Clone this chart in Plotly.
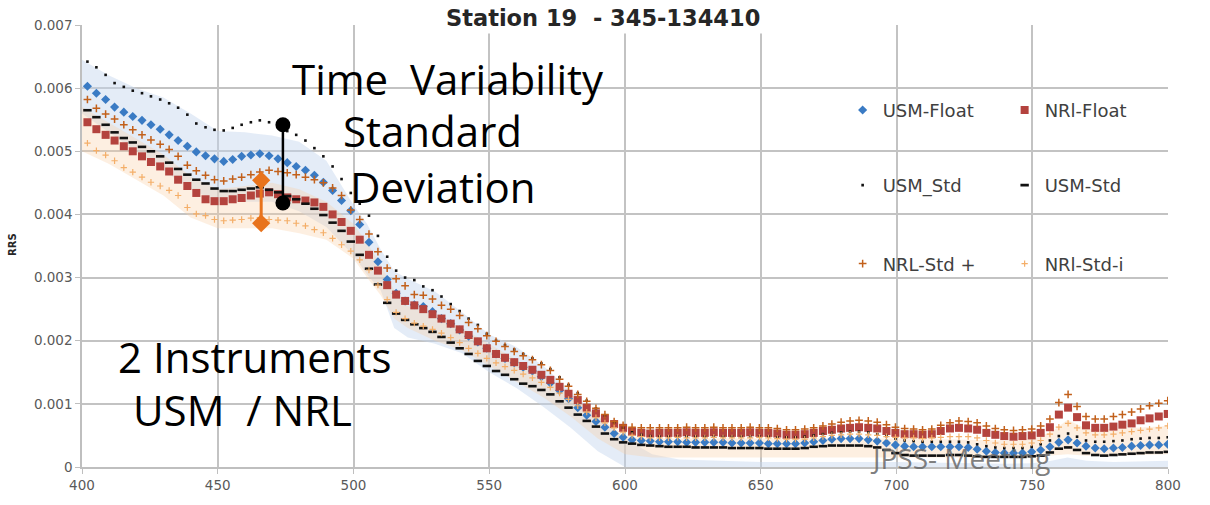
import numpy as np
import plotly.graph_objects as go

# wavelength grid of the spectra (nm)
wavelength = np.round(402 + 3.344 * np.arange(120), 1)

# Remote-sensing reflectance values, read in units of 1e-3 sr^-1
usm_float = [6.03, 5.92, 5.82, 5.70, 5.62, 5.55, 5.49, 5.42, 5.35, 5.26,
             5.17, 5.08, 4.99, 4.93, 4.88, 4.84, 4.87, 4.92, 4.94, 4.96,
             4.93, 4.88, 4.82, 4.76, 4.70, 4.62, 4.51, 4.38, 4.22, 4.06,
             3.84, 3.56, 3.25, 2.97, 2.75, 2.63, 2.57, 2.54, 2.46, 2.35,
             2.27, 2.17, 2.07, 1.98, 1.88, 1.79, 1.72, 1.65, 1.58, 1.52,
             1.43, 1.33, 1.21, 1.08, 0.94, 0.82, 0.72, 0.63, 0.53, 0.47,
             0.43, 0.42, 0.41, 0.40, 0.40, 0.40, 0.39, 0.39, 0.39, 0.39,
             0.39, 0.38, 0.38, 0.38, 0.38, 0.37, 0.37, 0.37, 0.37, 0.38,
             0.40, 0.42, 0.44, 0.45, 0.45, 0.45, 0.43, 0.41, 0.38, 0.35,
             0.33, 0.32, 0.32, 0.32, 0.32, 0.32, 0.32, 0.31, 0.28, 0.25,
             0.23, 0.22, 0.22, 0.22, 0.24, 0.27, 0.32, 0.39, 0.43, 0.38,
             0.33, 0.30, 0.29, 0.30, 0.31, 0.33, 0.34, 0.35, 0.35, 0.36]

nrl_float = [5.46, 5.35, 5.26, 5.17, 5.08, 5.00, 4.92, 4.83, 4.76, 4.68,
             4.55, 4.45, 4.34, 4.24, 4.21, 4.21, 4.24, 4.26, 4.30, 4.33,
             4.35, 4.32, 4.27, 4.24, 4.22, 4.19, 4.12, 4.00, 3.88, 3.74,
             3.60, 3.36, 3.11, 2.88, 2.73, 2.63, 2.56, 2.50, 2.42, 2.35,
             2.27, 2.18, 2.09, 1.99, 1.88, 1.79, 1.73, 1.66, 1.60, 1.54,
             1.46, 1.38, 1.27, 1.16, 1.06, 0.94, 0.85, 0.77, 0.68, 0.62,
             0.56, 0.54, 0.53, 0.54, 0.54, 0.54, 0.55, 0.54, 0.54, 0.55,
             0.54, 0.54, 0.54, 0.55, 0.54, 0.54, 0.53, 0.51, 0.51, 0.52,
             0.54, 0.57, 0.59, 0.61, 0.62, 0.63, 0.62, 0.61, 0.57, 0.54,
             0.52, 0.52, 0.51, 0.52, 0.57, 0.61, 0.62, 0.61, 0.59, 0.54,
             0.51, 0.49, 0.48, 0.49, 0.50, 0.54, 0.63, 0.83, 0.94, 0.79,
             0.66, 0.62, 0.62, 0.64, 0.67, 0.69, 0.74, 0.77, 0.80, 0.84]

usm_std_hi = [6.42, 6.33, 6.21, 6.08, 6.02, 5.96, 5.92, 5.87, 5.82, 5.76,
              5.69, 5.58, 5.44, 5.38, 5.34, 5.33, 5.37, 5.42, 5.46, 5.49,
              5.46, 5.40, 5.32, 5.26, 5.17, 5.05, 4.92, 4.76, 4.56, 4.34,
              4.17, 3.98, 3.66, 3.33, 3.11, 3.00, 2.96, 2.86, 2.80, 2.70,
              2.58, 2.47, 2.35, 2.25, 2.11, 2.00, 1.93, 1.86, 1.79, 1.72,
              1.64, 1.55, 1.42, 1.30, 1.17, 1.05, 0.93, 0.82, 0.71, 0.62,
              0.55, 0.51, 0.49, 0.48, 0.48, 0.48, 0.48, 0.48, 0.48, 0.48,
              0.48, 0.48, 0.48, 0.48, 0.48, 0.48, 0.47, 0.47, 0.47, 0.48,
              0.50, 0.52, 0.54, 0.55, 0.56, 0.56, 0.55, 0.52, 0.49, 0.45,
              0.42, 0.41, 0.40, 0.40, 0.40, 0.40, 0.40, 0.39, 0.36, 0.33,
              0.31, 0.30, 0.30, 0.30, 0.32, 0.36, 0.42, 0.49, 0.53, 0.48,
              0.42, 0.40, 0.40, 0.41, 0.42, 0.44, 0.45, 0.46, 0.46, 0.47]

usm_std_lo = [5.65, 5.54, 5.42, 5.30, 5.21, 5.14, 5.07, 5.00, 4.92, 4.82,
              4.72, 4.63, 4.55, 4.49, 4.41, 4.37, 4.37, 4.39, 4.41, 4.43,
              4.39, 4.35, 4.29, 4.24, 4.17, 4.09, 3.99, 3.87, 3.74, 3.57,
              3.36, 3.14, 2.89, 2.60, 2.43, 2.33, 2.26, 2.20, 2.14, 2.06,
              1.97, 1.88, 1.79, 1.68, 1.60, 1.52, 1.46, 1.39, 1.32, 1.28,
              1.22, 1.15, 1.04, 0.94, 0.83, 0.73, 0.64, 0.53, 0.44, 0.39,
              0.37, 0.35, 0.34, 0.33, 0.32, 0.32, 0.32, 0.31, 0.31, 0.31,
              0.31, 0.30, 0.30, 0.30, 0.30, 0.29, 0.29, 0.29, 0.29, 0.30,
              0.32, 0.33, 0.34, 0.34, 0.34, 0.34, 0.33, 0.31, 0.27, 0.22,
              0.19, 0.18, 0.18, 0.18, 0.18, 0.19, 0.19, 0.18, 0.17, 0.16,
              0.16, 0.16, 0.16, 0.16, 0.17, 0.18, 0.23, 0.29, 0.31, 0.27,
              0.22, 0.19, 0.18, 0.19, 0.20, 0.21, 0.22, 0.23, 0.23, 0.24]

nrl_std_hi = [5.82, 5.68, 5.59, 5.51, 5.42, 5.34, 5.26, 5.18, 5.11, 5.03,
              4.92, 4.78, 4.69, 4.62, 4.55, 4.53, 4.56, 4.59, 4.63, 4.67,
              4.70, 4.68, 4.66, 4.63, 4.59, 4.55, 4.50, 4.42, 4.30, 4.07,
              3.92, 3.69, 3.41, 3.15, 2.98, 2.87, 2.73, 2.72, 2.66, 2.56,
              2.50, 2.40, 2.29, 2.19, 2.08, 1.99, 1.91, 1.83, 1.76, 1.70,
              1.62, 1.53, 1.39, 1.28, 1.15, 1.04, 0.93, 0.83, 0.72, 0.66,
              0.63, 0.62, 0.62, 0.62, 0.62, 0.62, 0.63, 0.62, 0.62, 0.63,
              0.62, 0.62, 0.62, 0.63, 0.62, 0.62, 0.61, 0.59, 0.59, 0.60,
              0.62, 0.65, 0.68, 0.71, 0.73, 0.74, 0.73, 0.71, 0.67, 0.63,
              0.61, 0.60, 0.59, 0.60, 0.66, 0.70, 0.73, 0.72, 0.70, 0.65,
              0.61, 0.59, 0.58, 0.59, 0.60, 0.65, 0.76, 1.02, 1.15, 0.96,
              0.80, 0.76, 0.76, 0.80, 0.83, 0.87, 0.92, 0.97, 1.01, 1.05]

nrl_std_lo = [5.13, 5.01, 4.94, 4.85, 4.74, 4.67, 4.59, 4.51, 4.45, 4.38,
              4.30, 4.11, 4.01, 3.98, 3.92, 3.90, 3.91, 3.92, 3.94, 3.95,
              3.92, 3.91, 3.90, 3.86, 3.82, 3.76, 3.71, 3.62, 3.52, 3.42,
              3.28, 3.12, 2.88, 2.65, 2.45, 2.35, 2.28, 2.23, 2.18, 2.12,
              2.05, 1.97, 1.88, 1.80, 1.72, 1.65, 1.59, 1.53, 1.47, 1.41,
              1.34, 1.26, 1.17, 1.07, 0.97, 0.87, 0.78, 0.70, 0.62, 0.55,
              0.50, 0.48, 0.46, 0.46, 0.46, 0.47, 0.46, 0.46, 0.46, 0.47,
              0.46, 0.46, 0.46, 0.46, 0.47, 0.46, 0.45, 0.44, 0.44, 0.44,
              0.46, 0.48, 0.50, 0.51, 0.52, 0.52, 0.51, 0.50, 0.48, 0.47,
              0.46, 0.46, 0.45, 0.46, 0.47, 0.48, 0.48, 0.48, 0.46, 0.42,
              0.38, 0.36, 0.36, 0.36, 0.38, 0.42, 0.52, 0.63, 0.69, 0.62,
              0.54, 0.51, 0.51, 0.52, 0.54, 0.56, 0.58, 0.60, 0.62, 0.65]

# shaded variability envelopes (1e-3 sr^-1)
band_wl = [400, 410, 420, 430, 440, 450, 460, 470, 480, 490, 500, 505, 510,
           515, 520, 530, 540, 550, 560, 570, 580, 590, 600, 610, 620, 650,
           700, 740, 750, 757, 763, 770, 780, 800]
usm_band_hi = [6.45, 6.2, 6.0, 5.85, 5.6, 5.32, 5.3, 5.25, 5.15, 4.85, 4.15,
               3.85, 3.45, 3.1, 2.98, 2.78, 2.45, 2.1, 1.9, 1.6, 1.2, 0.8,
               0.45, 0.2, 0.12, 0.08, 0.08, 0.05, 0.06, 0.1, 0.15, 0.1, 0.08, 0.1]
usm_band_lo = [5.6, 5.3, 5.0, 4.7, 4.4, 4.2, 4.2, 4.2, 4.05, 3.8, 3.35, 3.05,
               2.8, 2.2, 2.05, 1.95, 1.8, 1.5, 1.25, 0.95, 0.62, 0.25, 0.0,
               -0.1, -0.15, -0.2, -0.25, -0.25, -0.25, -0.2, -0.15, -0.25, -0.3, -0.3]
nrl_band_hi = [5.7, 5.45, 5.2, 4.95, 4.6, 4.4, 4.45, 4.5, 4.4, 4.2, 3.85,
               3.55, 3.2, 2.8, 2.55, 2.4, 2.2, 1.95, 1.7, 1.45, 1.15, 0.8,
               0.5, 0.45, 0.45, 0.45, 0.45, 0.42, 0.45, 0.55, 0.75, 0.6, 0.6, 0.65]
nrl_band_lo = [5.0, 4.8, 4.55, 4.3, 3.95, 3.78, 3.78, 3.78, 3.7, 3.6, 3.3,
               3.0, 2.72, 2.35, 2.2, 2.0, 1.85, 1.6, 1.35, 1.1, 0.8, 0.45,
               0.2, 0.15, 0.15, 0.15, 0.15, 0.15, 0.16, 0.18, 0.2, 0.18, 0.18, 0.2]

# annotation error bars
time_sd_wl = [474, 474]
time_sd_val = [5.42, 4.18]
inst_sd_wl = [466, 466]
inst_sd_val = [4.54, 3.86]

S = 1e-3
def sc(v):
    return np.array(v) * S

fig = go.Figure()

# bands
fig.add_trace(go.Scatter(x=band_wl + band_wl[::-1],
                         y=sc(usm_band_hi + usm_band_lo[::-1]),
                         fill='toself', fillcolor='rgba(195,213,238,0.45)',
                         line=dict(width=0), mode='lines', hoverinfo='skip',
                         showlegend=False))
fig.add_trace(go.Scatter(x=band_wl + band_wl[::-1],
                         y=sc(nrl_band_hi + nrl_band_lo[::-1]),
                         fill='toself', fillcolor='rgba(250,205,165,0.33)',
                         line=dict(width=0), mode='lines', hoverinfo='skip',
                         showlegend=False))

fig.add_trace(go.Scatter(x=wavelength, y=sc(usm_float), mode='markers',
                         name='USM-Float', legend='legend',
                         marker=dict(symbol='diamond', size=7, color='#3A7BC4')))
fig.add_trace(go.Scatter(x=wavelength, y=sc(nrl_float), mode='markers',
                         name='NRl-Float', legend='legend',
                         marker=dict(symbol='square', size=8, color='#B4433E')))
fig.add_trace(go.Scatter(x=wavelength, y=sc(usm_std_hi), mode='markers',
                         name='USM_Std', legend='legend2',
                         marker=dict(symbol='square', size=2.6, color='#111111')))
fig.add_trace(go.Scatter(x=wavelength, y=sc(usm_std_lo), mode='markers',
                         name='USM-Std', legend='legend2',
                         marker=dict(symbol='line-ew', size=6,
                                     line=dict(width=2.6, color='#111111'))))
fig.add_trace(go.Scatter(x=wavelength, y=sc(nrl_std_hi), mode='markers',
                         name='NRL-Std +', legend='legend3',
                         marker=dict(symbol='cross-thin', size=5.5,
                                     line=dict(width=1.5, color='#C2601B'))))
fig.add_trace(go.Scatter(x=wavelength, y=sc(nrl_std_lo), mode='markers',
                         name='NRl-Std-i', legend='legend3',
                         marker=dict(symbol='cross-thin', size=4.5,
                                     line=dict(width=1.2, color='#F4AE68'))))

# error-bar style markers
fig.add_trace(go.Scatter(x=time_sd_wl, y=sc(time_sd_val), mode='lines+markers',
                         line=dict(color='black', width=2.5),
                         marker=dict(symbol='circle', size=15, color='black'),
                         showlegend=False))
fig.add_trace(go.Scatter(x=inst_sd_wl, y=sc(inst_sd_val), mode='lines+markers',
                         line=dict(color='#E8731C', width=3),
                         marker=dict(symbol='diamond', size=14, color='#E8731C'),
                         showlegend=False))

leg_common = dict(orientation='h', xanchor='left', yanchor='middle',
                  entrywidth=117, entrywidthmode='pixels',
                  bgcolor='rgba(0,0,0,0)', traceorder='normal',
                  font=dict(family='DejaVu Sans', size=18, color='#404040'))

big = dict(family='Open Sans', size=42, color='black')

annotations = [
    dict(text='Station 19\u00a0 - 345-134410', x=0.4793, y=1.0157,
         xref='paper', yref='paper', showarrow=False, bgcolor='white',
         borderpad=2, font=dict(family='DejaVu Sans', size=22.5, color='#262626',
                                weight='bold')),
    dict(text='RRS', x=-0.0645, y=0.5045, xref='paper', yref='paper',
         showarrow=False, textangle=-90,
         font=dict(family='DejaVu Sans', size=10, color='#262626', weight='bold')),
    dict(text='Time\u00a0 Variability', x=0.3373, y=0.8789, font=big),
    dict(text='Standard', x=0.3226, y=0.7623, font=big),
    dict(text='Deviation', x=0.3327, y=0.6345, font=big),
    dict(text='2 Instruments', x=0.1594, y=0.2511, font=big),
    dict(text='USM\u00a0 / NRL', x=0.1475, y=0.1300, font=big),
    dict(text='JPSS- Meeting', x=0.8083, y=0.0202,
         font=dict(family='Open Sans', size=28, color='rgba(105,105,105,0.85)')),
]
for a in annotations:
    a.setdefault('xref', 'paper')
    a.setdefault('yref', 'paper')
    a.setdefault('showarrow', False)
    a.setdefault('xanchor', 'center')
    a.setdefault('yanchor', 'middle')

axis_font = dict(family='DejaVu Sans', size=13.5, color='#595959')

fig.update_layout(
    width=1210, height=505,
    margin=dict(l=82, r=42, t=25, b=34),
    paper_bgcolor='white', plot_bgcolor='white',
    legend=dict(x=0.7004, y=0.807, **leg_common),
    legend2=dict(x=0.7004, y=0.637, **leg_common),
    legend3=dict(x=0.7004, y=0.4596, **leg_common),
    annotations=annotations,
    xaxis=dict(range=[400, 800], tick0=400, dtick=50, showgrid=True,
               gridcolor='#C3C3C3', gridwidth=1.5, showline=True,
               linecolor='#BFBFBF', linewidth=1.5, ticks='outside',
               ticklen=5, tickcolor='#BFBFBF', tickfont=axis_font,
               zeroline=False),
    yaxis=dict(range=[0, 0.007], tick0=0, dtick=0.001, tickformat='.3~f',
               showgrid=True, gridcolor='#C3C3C3', gridwidth=1.5,
               showline=True, linecolor='#BFBFBF', linewidth=1.5,
               ticks='outside', ticklen=5, tickcolor='#BFBFBF',
               tickfont=axis_font, zeroline=False),
)

fig.write_html('out.html')
